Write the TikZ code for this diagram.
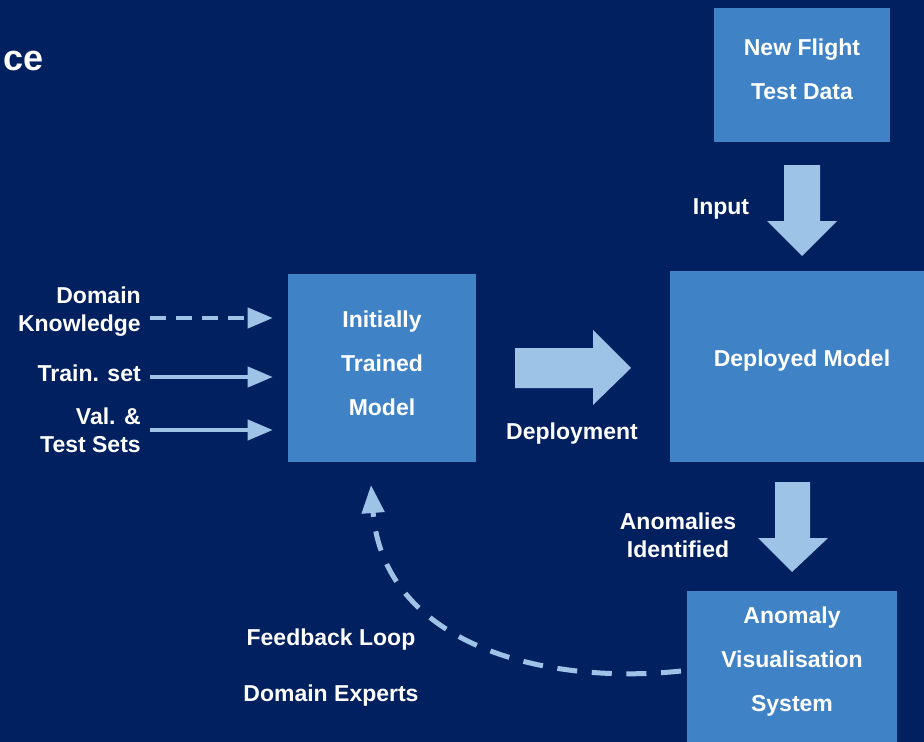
\documentclass[tikz,border=0pt]{standalone}
\usepackage{fontspec}
\setmainfont{Liberation Sans}
\usetikzlibrary{arrows.meta}
\definecolor{navy}{HTML}{002060}
\definecolor{boxblue}{HTML}{3F83C6}
\definecolor{paleblue}{HTML}{9DC3E6}

\begin{document}
\begin{tikzpicture}[x=0.75pt,y=-0.75pt,
  lbl/.style={text=white,font=\bfseries\fontsize{17.25}{21}\selectfont,inner sep=0pt},
  blk/.style={fill=boxblue,draw=none,inner sep=0pt},
  blktxt/.style={text=white,font=\bfseries\fontsize{17.25}{33}\selectfont,align=center,inner sep=0pt},
  thin arrow/.style={draw=paleblue,line width=3pt,
    -{Triangle[length=18.75pt,width=15pt]},shorten >=11.25pt},
  loop arrow/.style={draw=paleblue,line width=3.75pt,dash pattern=on 15pt off 11pt,
    -{Triangle[length=21pt,width=16.5pt]}},
  fat arrow/.style={fill=paleblue,draw=none}]

% background and frame
\useasboundingbox (0,0) rectangle (924,742);
\fill[navy] (0,0) rectangle (924,742);

\begin{scope}
\clip (0,0) rectangle (924,742);

% title remnant
\node[text=white,font=\bfseries\fontsize{27}{30}\selectfont,inner sep=0pt,anchor=base east]
  (title) at (44,70) {ce};

% boxes
\node[blk,minimum width=132pt,minimum height=100.5pt] (data) at (802,75) {};
\node[blktxt] at (802,69) {New Flight\\Test Data};

\node[blk,minimum width=141pt,minimum height=141pt] (model) at (382,368) {};
\node[blktxt] at (382,363) {Initially\\Trained\\Model};

\node[blk,minimum width=195pt,minimum height=143.25pt] (deployed) at (800,366.5) {};
\node[blktxt] at (802,361) {Deployed Model};

\node[blk,minimum width=157.5pt,minimum height=119.25pt] (anom) at (792,670.5) {};
\node[blktxt] at (792,662) {Anomaly\\Visualisation\\System};

% block arrows
\fill[fat arrow] (784,165) -- (820,165) -- (820,221) -- (837,221) -- (802,256)
  -- (767,221) -- (784,221) -- cycle;
\fill[fat arrow] (515,348) -- (593,348) -- (593,330) -- (631,368) -- (593,405)
  -- (593,388) -- (515,388) -- cycle;
\fill[fat arrow] (775,482) -- (810,482) -- (810,538) -- (828,538) -- (792,572)
  -- (758,538) -- (775,538) -- cycle;

% labels
\node[lbl] (input) at (721,209) {Input};
\node[lbl] (deploy) at (572,434) {Deployment};
\node[lbl,align=center] (found) at (678,535) {Anomalies\\Identified};
\node[lbl,align=right,anchor=east] (know) at (141,312) {Domain\\Knowledge};
\node[lbl,anchor=east] (train) at (141,373) {Train. set};
\node[lbl,align=right,anchor=east] (val) at (141,430) {Val. \&\\Test Sets};
\node[lbl] (fb) at (331,640) {Feedback Loop};
\node[lbl] (experts) at (331,696) {Domain Experts};

% inputs to the initial model
\coordinate (k0) at (150,318);
\coordinate (t0) at (150,377);
\coordinate (v0) at (150,430);
\draw[thin arrow,dash pattern=on 12pt off 7.5pt] (k0) -- (k0 -| model.west);
\draw[thin arrow] (t0) -- (t0 -| model.west);
\draw[thin arrow] (v0) -- (v0 -| model.west);

% feedback from the visualisation system
\coordinate (fbS) at (681,671);
\coordinate (fbE) at (371,485);
\draw[loop arrow] (fbS) .. controls (540,686) and (383,642) .. (fbE);
\end{scope}
\end{tikzpicture}
\end{document}
